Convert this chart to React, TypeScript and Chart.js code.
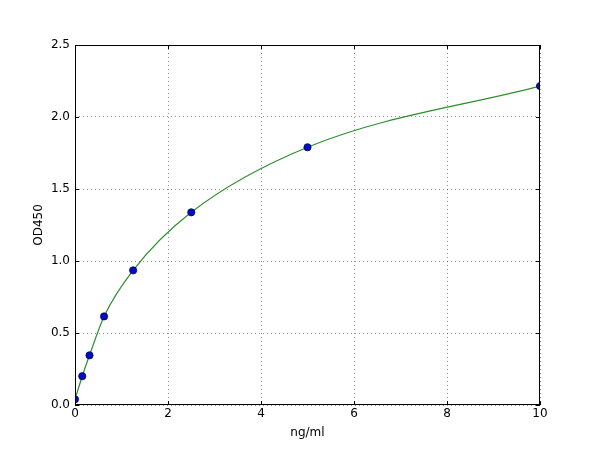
import { useRef, useEffect } from "react";
import { Chart, registerables, Plugin } from "chart.js";

Chart.register(...registerables);

const concentrations = [0, 0.156, 0.312, 0.625, 1.25, 2.5, 5, 10];
const odValues = [0.04, 0.2, 0.345, 0.615, 0.935, 1.338, 1.79, 2.215];
const xTicks = [0, 2, 4, 6, 8, 10];
const yTicks = [0, 0.5, 1.0, 1.5, 2.0, 2.5];

const FONT = "'DejaVu Sans', sans-serif";

// matplotlib-style frame with inward ticks on every side
const framePlugin: Plugin = {
  id: "frame",
  afterDraw(chart) {
    const { ctx, chartArea: a, scales } = chart;
    ctx.save();
    ctx.strokeStyle = "#000";
    ctx.lineWidth = 1;
    ctx.strokeRect(a.left + 0.5, a.top + 0.5, a.right - a.left - 1, a.bottom - a.top - 1);
    ctx.beginPath();
    for (const v of xTicks) {
      const px = Math.round(scales.x.getPixelForValue(v)) + 0.5;
      ctx.moveTo(px, a.bottom); ctx.lineTo(px, a.bottom - 4);
      ctx.moveTo(px, a.top); ctx.lineTo(px, a.top + 4);
    }
    for (const v of yTicks) {
      const py = Math.round(scales.y.getPixelForValue(v)) + 0.5;
      ctx.moveTo(a.left, py); ctx.lineTo(a.left + 4, py);
      ctx.moveTo(a.right, py); ctx.lineTo(a.right - 4, py);
    }
    ctx.stroke();
    ctx.restore();
  },
};

function App() {
  const canvasRef = useRef<HTMLCanvasElement>(null);

  useEffect(() => {
    if (!canvasRef.current) return;
    document.body.style.margin = "0";
    const points = concentrations.map((x, i) => ({ x, y: odValues[i] }));

    const chart = new Chart(canvasRef.current, {
      type: "scatter",
      data: {
        datasets: [
          {
            type: "line",
            data: points,
            borderColor: "#2a8f2a",
            borderWidth: 1.2,
            pointRadius: 0,
            cubicInterpolationMode: "monotone",
            fill: false,
            order: 2,
          },
          {
            data: points,
            backgroundColor: "#0010c0",
            borderColor: "#000060",
            borderWidth: 0.8,
            pointRadius: 3.6,
            order: 1,
          },
        ],
      },
      options: {
        animation: false,
        responsive: false,
        maintainAspectRatio: false,
        layout: { padding: { top: 45, right: 60, left: 28, bottom: 0 } },
        plugins: { legend: { display: false }, tooltip: { enabled: false } },
        scales: {
          x: {
            type: "linear",
            min: 0,
            max: 10,
            afterBuildTicks: (s) => { s.ticks = xTicks.map((value) => ({ value })); },
            afterFit: (s) => { s.height = 45; },
            ticks: { color: "#000", font: { family: FONT, size: 12 }, padding: 2, callback: (v) => String(v) },
            grid: { color: "rgba(0,0,0,0.55)", lineWidth: 0.8, drawTicks: false },
            border: { display: false, dash: [1, 3] },
            title: { display: true, text: "ng/ml", color: "#000", font: { family: FONT, size: 12 }, padding: { top: 0, bottom: 10 } },
          },
          y: {
            type: "linear",
            min: 0,
            max: 2.5,
            afterBuildTicks: (s) => { s.ticks = yTicks.map((value) => ({ value })); },
            afterFit: (s) => { s.width = 47; },
            ticks: { color: "#000", font: { family: FONT, size: 12 }, padding: 5, callback: (v) => Number(v).toFixed(1) },
            grid: { color: "rgba(0,0,0,0.55)", lineWidth: 0.8, drawTicks: false },
            border: { display: false, dash: [1, 3] },
            title: { display: true, text: "OD450", color: "#000", font: { family: FONT, size: 12 }, padding: { top: 4, bottom: 4 } },
          },
        },
      },
      plugins: [framePlugin],
    });

    return () => chart.destroy();
  }, []);

  return (
    <div style={{ position: "relative", width: 600, height: 450 }}>
      <canvas ref={canvasRef} width={600} height={450} style={{ width: 600, height: 450 }} />
    </div>
  );
}

export default App;
